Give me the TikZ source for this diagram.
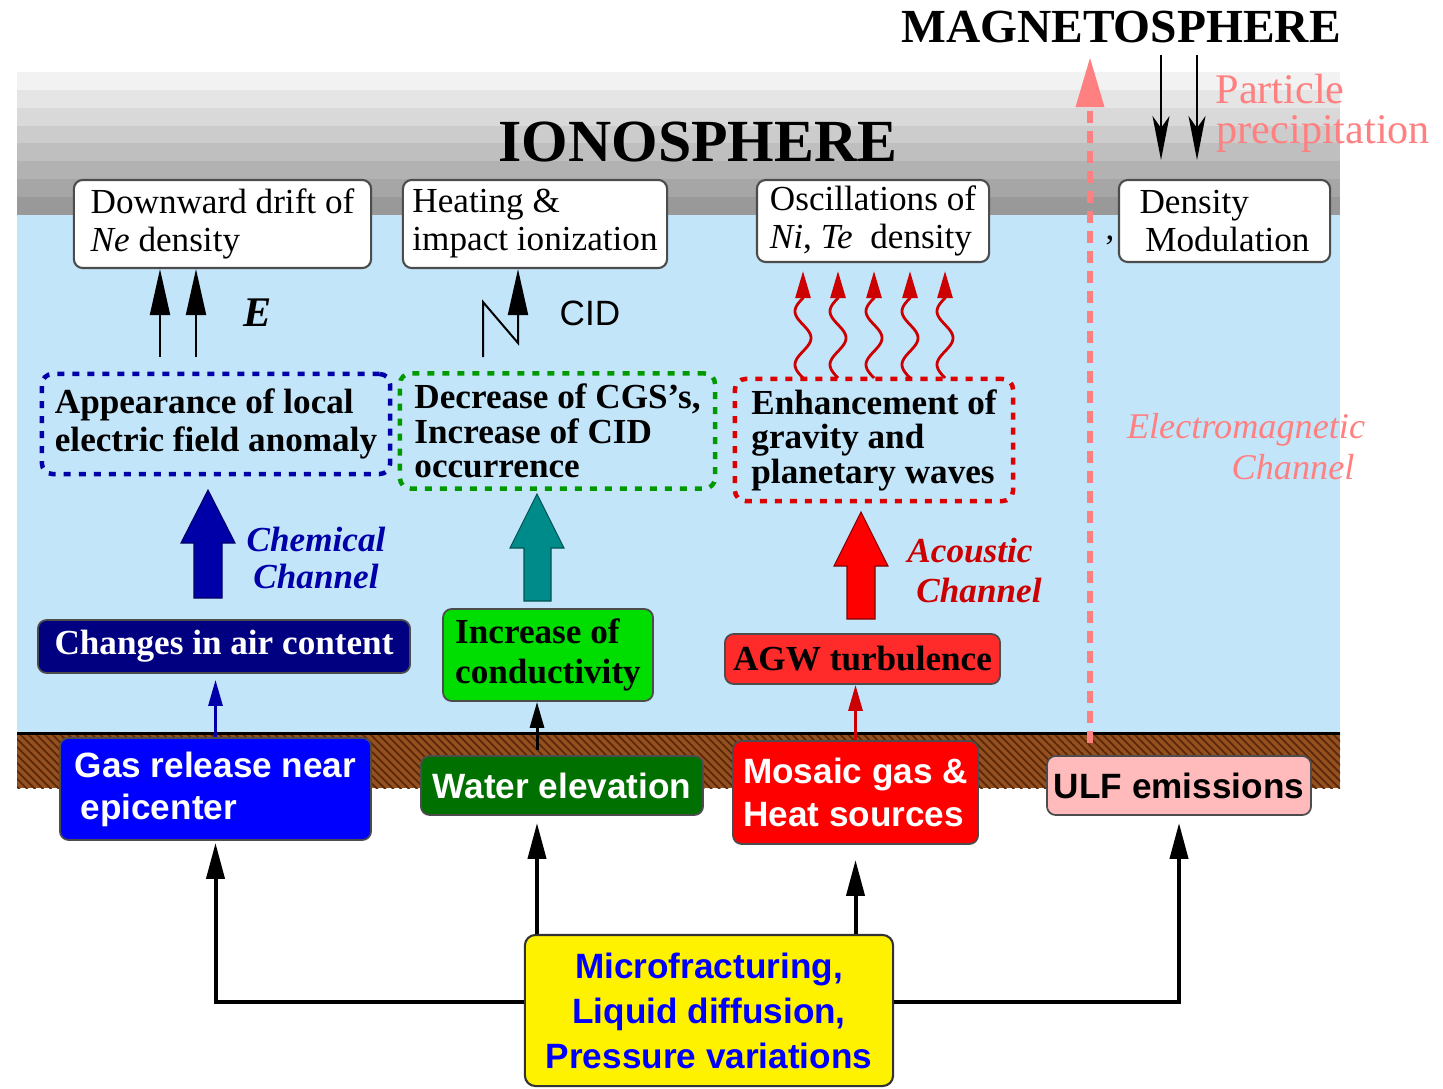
\documentclass[tikz,border=0pt]{standalone}
\usepackage{fontspec}
\setmainfont{Liberation Serif}
\setsansfont{Liberation Sans}
\usetikzlibrary{arrows.meta,patterns.meta}
\definecolor{sky}{HTML}{C3E5FA}
\definecolor{ground}{HTML}{94501E}
\definecolor{groundhatch}{HTML}{5A2808}
\definecolor{navyA}{HTML}{0000A8}
\definecolor{navybox}{HTML}{000080}
\definecolor{dotgreen}{HTML}{009A00}
\definecolor{dotred}{HTML}{DD0000}
\definecolor{tealA}{HTML}{008B8B}
\definecolor{brightgreen}{HTML}{00DD00}
\definecolor{agwred}{HTML}{FF2A2A}
\definecolor{darkgreen}{HTML}{007000}
\definecolor{pinkbox}{HTML}{FFBBBB}
\definecolor{acred}{HTML}{CC0000}
\definecolor{pinkline}{HTML}{FF8080}
\definecolor{gasblue}{HTML}{0000FF}
\begin{document}
\begin{tikzpicture}[x=0.01cm,y=-0.01cm,
  topbox/.style={draw=black!70, fill=white, rounded corners=2.5pt, line width=0.6pt,
    inner sep=0pt, align=left, font=\fontsize{10}{10.8}\selectfont},
  dotbox/.style={line width=0.045cm, dash pattern=on 0.07cm off 0.08cm, rounded corners=3pt,
    inner sep=0pt, align=left, font=\bfseries\fontsize{10}{9.8}\selectfont},
  midbox/.style={draw=black!70, rounded corners=2.5pt, line width=0.5pt,
    inner sep=0pt, align=left, font=\bfseries\fontsize{10}{11.6}\selectfont},
  gbox/.style={draw=black!70, rounded corners=2.5pt, line width=0.5pt,
    inner sep=0pt, align=left, font=\sffamily\bfseries\fontsize{10}{12}\selectfont},
  uparr/.style={line width=0.02cm, -{Triangle[length=0.46cm,width=0.2cm]}},
  wavy/.style={acred, line width=0.028cm, -{Triangle[length=0.27cm,width=0.15cm]}, shorten >=0.08cm},
  thinarr/.style={line width=0.03cm, -{Triangle[length=0.26cm,width=0.14cm]}},
  conn/.style={line width=0.04cm, -{Triangle[length=0.36cm,width=0.18cm]}},
  parr/.style={line width=0.02cm, -{Stealth[length=0.44cm,width=0.17cm,inset=0.12cm]}},
  blockarrow/.style={line width=0.3pt}
]
\useasboundingbox (0,0) rectangle (1443,1088);

% --- background layers ---
\foreach \i/\c in {0/5,1/10,2/15,3/20,4/25,5/30,6/35,7/40}
  \fill[black!\c] (17,{72+\i*17.875}) rectangle (1340,{72+(\i+1)*17.875});
\fill[sky] (17,215) rectangle (1340,733);
\fill[ground] (17,733) rectangle (1340,788);
\fill[pattern={Lines[angle=-45,distance=1.6pt,line width=0.5pt]}, pattern color=groundhatch]
  (17,733) rectangle (1340,788);
\draw[line width=0.03cm] (17,733) -- (1340,733);

% --- titles ---
\node[font=\bfseries\fontsize{17}{20}\selectfont] (iono) at (698,142) {IONOSPHERE};
\node[font=\bfseries\fontsize{13.5}{16}\selectfont] (magneto) at (1121,27) {MAGNETOSPHERE};

% --- top (ionosphere) boxes ---
\node[topbox, minimum width=2.97cm, minimum height=0.88cm] (b1) at (222.5,224)
  {Downward drift of\\\textit{Ne} density};
\node[topbox, minimum width=2.64cm, minimum height=0.88cm] (b2) at (535,224)
  {Heating \&\\impact ionization};
\node[topbox, minimum width=2.32cm, minimum height=0.82cm] (b3) at (873,221)
  {Oscillations of\\\textit{Ni}, \textit{Te}~ density};
\node[topbox, minimum width=2.11cm, minimum height=0.82cm] (b4) at (1224.5,221)
  {Density\\\,Modulation};
\node[font=\fontsize{10}{12}\selectfont] (comma) at (1110,240) {,};

% --- dotted boxes ---
\node[dotbox, draw=navyA, minimum width=3.48cm, minimum height=1.00cm,
  font=\bfseries\fontsize{10}{10.8}\selectfont] (d1) at (216,424)
  {Appearance of local\\electric field anomaly};
\node[dotbox, draw=dotgreen, minimum width=3.15cm, minimum height=1.15cm] (d2) at (557.5,431)
  {Decrease of CGS's,\\Increase of CID\\occurrence};
\node[dotbox, draw=dotred, minimum width=2.78cm, minimum height=1.22cm] (d3) at (874,440)
  {Enhancement of\\gravity and\\planetary waves};

% --- middle boxes ---
\node[midbox, fill=navybox, text=white, minimum width=3.72cm, minimum height=0.53cm] (m1) at (224,646.5)
  {Changes in air content};
\node[midbox, fill=brightgreen, minimum width=2.10cm, minimum height=0.92cm] (m2) at (548,655)
  {Increase of\\conductivity};
\node[midbox, fill=agwred, minimum width=2.75cm, minimum height=0.50cm] (m3) at (862.5,659)
  {AGW turbulence};

% --- ground boxes ---
\node[gbox, fill=gasblue, text=white, minimum width=3.11cm, minimum height=1.02cm] (g1) at (215.5,789)
  {Gas release near\\\,epicenter};
\node[gbox, fill=darkgreen, text=white, minimum width=2.82cm, minimum height=0.59cm] (g2) at (562,785.5)
  {Water elevation};
\node[gbox, fill=red, text=white, minimum width=2.45cm, minimum height=1.03cm] (g3) at (855.5,792.5)
  {Mosaic gas \&\\Heat sources};
\node[gbox, fill=pinkbox, text=black, minimum width=2.64cm, minimum height=0.59cm] (g4) at (1179,785.5)
  {ULF emissions};

% --- source box ---
\node[draw=black!80, fill=yellow, rounded corners=3pt, line width=0.6pt, inner sep=0pt,
  minimum width=3.68cm, minimum height=1.51cm, align=center, text=gasblue,
  font=\sffamily\bfseries\fontsize{10}{12.8}\selectfont] (y1) at (709,1010.5)
  {Microfracturing,\\Liquid diffusion,\\Pressure variations};

% --- labels ---
\node[font=\bfseries\itshape\fontsize{12}{14}\selectfont] (elab) at (258,313) {E};
\node[font=\sffamily\fontsize{10}{12}\selectfont] (cid) at (590,313) {CID};
\node[font=\bfseries\itshape\fontsize{10}{10.5}\selectfont, text=navyA, align=center] (chem) at (316,558)
  {Chemical\\Channel};
\node[font=\bfseries\itshape\fontsize{10}{12}\selectfont, text=acred] (ac1) at (970,551) {Acoustic};
\node[font=\bfseries\itshape\fontsize{10}{12}\selectfont, text=acred] (ac2) at (979,590) {Channel};
\node[font=\itshape\fontsize{10.3}{12}\selectfont, text=pinkline] (em1) at (1246,430) {Electromagnetic};
\node[font=\itshape\fontsize{10.3}{12}\selectfont, text=pinkline] (em2) at (1293,467) {Channel};
\node[font=\fontsize{12}{12}\selectfont, text=pinkline, inner sep=0pt, anchor=base west] (pp1) at (1215,104)
  {Particle};
\node[font=\fontsize{12}{12}\selectfont, text=pinkline, inner sep=0pt, anchor=base west] (pp2) at (1216,144)
  {precipitation};

% --- block arrows ---
\filldraw[blockarrow, fill=navyA, draw=black!40!navyA]
  (194,598) -- (194,543) -- (181,543) -- (208,490) -- (235,543) -- (222,543) -- (222,598) -- cycle;
\filldraw[blockarrow, fill=tealA, draw=black!40!tealA]
  (524,601) -- (524,548) -- (510,548) -- (537,494) -- (564,548) -- (551,548) -- (551,601) -- cycle;
\filldraw[blockarrow, fill=red, draw=black!50!red]
  (847,619) -- (847,566) -- (834,566) -- (861,512) -- (888,566) -- (875,566) -- (875,619) -- cycle;

% --- arrows to top boxes ---
\coordinate (ea) at (160,357);
\coordinate (eb) at (196,357);
\draw[uparr] (ea) -- (ea |- b1.south);
\draw[uparr] (eb) -- (eb |- b1.south);
\coordinate (ca) at (483,357);
\draw[uparr] (ca) -- ++(0,-55) -- ++(35,41) -- (b2.south -| 518,0);
\foreach \c in {803,838,874,910,945}
  \draw[wavy] plot[domain=0:80, samples=60, smooth] ({\c - 8*sin(\x*6.75)}, {378-\x}) -- (b3.south -| \c,0);

% --- magnetosphere arrows ---
\coordinate (pa) at (1161,55);
\coordinate (pb) at (1197,55);
\draw[parr] (pa) -- ++(0,105);
\draw[parr] (pb) -- ++(0,105);
\coordinate (emb) at (1090,743);
\coordinate (emt) at (1090,57);
\draw[pinkline, line width=0.065cm, dash pattern=on 0.12cm off 0.08cm,
  -{Triangle[length=0.5cm,width=0.27cm]}] (emb) -- (emt);

% --- ground to middle arrows ---
\draw[thinarr, navyA] (g1.north) -- (g1.north |- m1.south) [shorten >=0.06cm];
\coordinate (w0) at (537,750);
\draw[thinarr] (w0) -- (w0 |- m2.south);
\draw[thinarr, acred] (g3.north) -- (g3.north |- m3.south);

% --- source connectors ---
\draw[conn, shorten >=0.02cm] (y1.west |- 0,1002) -| (g1.south);
\draw[conn, shorten >=0.07cm] (y1.north -| w0) -- (w0 |- g2.south);
\draw[conn, shorten >=0.15cm] (y1.north -| g3.south) -- (g3.south);
\draw[conn, shorten >=0.07cm] (y1.east |- 0,1002) -| (g4.south);
\end{tikzpicture}
\end{document}
